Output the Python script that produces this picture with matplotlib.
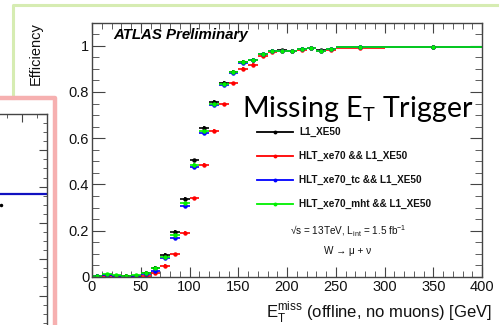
import matplotlib
matplotlib.use("Agg")
import matplotlib.pyplot as plt
from matplotlib.lines import Line2D
from matplotlib.ticker import MultipleLocator, FixedLocator, FuncFormatter
import numpy as np

# ---------------- data ----------------
bin_edges = [0, 10, 20, 30, 40, 50, 60, 70, 80, 90, 100, 110, 120, 130, 140, 150,
             160, 170, 180, 190, 200, 210, 220, 230, 240, 250, 300, 400]
eff_l1 = [0.004, 0.010, 0.006, 0.003, 0.006, 0.016, 0.040, 0.095, 0.196, 0.338,
          0.505, 0.645, 0.757, 0.839, 0.887, 0.930, 0.940, 0.963, 0.978, 0.980,
          0.978, 0.985, 0.990, 0.980, 0.985, 0.993, 0.996]
eff_xe70 = [0.002, 0.004, 0.003, 0.001, 0.003, 0.006, 0.019, 0.048, 0.098, 0.191,
            0.340, 0.484, 0.632, 0.746, 0.837, 0.901, 0.917, 0.955, 0.973, 0.977,
            0.976, 0.983, 0.988, 0.976, 0.982, 0.990, 0.995]
eff_tc = [0.003, 0.008, 0.005, 0.002, 0.005, 0.012, 0.028, 0.081, 0.170, 0.307,
          0.476, 0.621, 0.743, 0.829, 0.883, 0.927, 0.938, 0.962, 0.977, 0.978,
          0.977, 0.985, 0.989, 0.977, 0.984, 0.993, 0.996]
eff_mht = [0.005, 0.012, 0.008, 0.004, 0.008, 0.019, 0.037, 0.085, 0.180, 0.318,
           0.486, 0.632, 0.750, 0.836, 0.887, 0.930, 0.940, 0.963, 0.978, 0.979,
           0.978, 0.986, 0.990, 0.977, 0.985, 0.993, 0.996]
eff_err = 0.007
series_labels = ["L1_XE50", "HLT_xe70 && L1_XE50", "HLT_xe70_tc && L1_XE50",
                 "HLT_xe70_mht && L1_XE50"]
series_colors = ["black", "#ff0000", "#0000ff", "#00f000"]
x_ticks = [0, 50, 100, 150, 200, 250, 300, 350, 400]
y_ticks = [0, 0.2, 0.4, 0.6, 0.8, 1.0]

# neighbouring (cut-off) panel on the left
side_line_y = [0.78, 0.78]
side_line_x = [-53, 47]
side_point = ([1], [0.749])

# ---------------- figure ----------------
W, H = 500, 325
fig = plt.figure(figsize=(W / 100, H / 100), dpi=100)
fig.patch.set_facecolor("white")

def fx(px):
    return px / W

def fy(py):
    return 1 - py / H

FONT = ["Liberation Sans", "DejaVu Sans"]
plt.rcParams["font.family"] = FONT

# slide decorations: green and pink frames
fig.add_artist(Line2D([fx(13), fx(13), fx(497)], [fy(98), fy(5), fy(5)],
                      color="#d6ecb2", lw=2.2, solid_joinstyle="round"))
fig.add_artist(Line2D([fx(-5), fx(55), fx(55)], [fy(98), fy(98), fy(330)],
                      color="#f6b0b0", lw=3.2, solid_joinstyle="round"))

# left partial panel
ax2 = fig.add_axes([fx(-53), 0, fx(100), fy(114)])
ax2.set_xlim(-53, 47)
ax2.set_ylim(1.0 - 211 / 363, 1.0)
for s in ["left", "bottom"]:
    ax2.spines[s].set_visible(False)
for s in ["top", "right"]:
    ax2.spines[s].set_color("#444444")
    ax2.spines[s].set_linewidth(1.0)
ax2.xaxis.tick_top()
ax2.yaxis.tick_right()
ax2.set_xticks([22])
ax2.set_xticks([7, 37], minor=True)
ax2.yaxis.set_major_locator(MultipleLocator(0.1))
ax2.yaxis.set_minor_locator(MultipleLocator(0.025))
ax2.tick_params(which="both", direction="in", labeltop=False, labelright=False,
                labelbottom=False, labelleft=False, color="#444444")
ax2.tick_params(which="major", length=6)
ax2.tick_params(which="minor", length=3)
ax2.plot(side_line_x, side_line_y, color="#1010c0", lw=1.6)
ax2.plot(side_point[0], side_point[1], "o", color="black", ms=1.5)
ax2.patch.set_alpha(0)

# main axes
ax = fig.add_axes([fx(92), fy(277), fx(390), 254 / H])
edges = np.array(bin_edges, dtype=float)
centers = 0.5 * (edges[1:] + edges[:-1])
halfw = 0.5 * (edges[1:] - edges[:-1])

all_series = [eff_l1, eff_xe70, eff_tc, eff_mht]
for vals, col in zip(all_series, series_colors):
    ax.errorbar(centers, vals, xerr=halfw, yerr=eff_err, fmt="o", ms=3.2,
                color=col, ecolor=col, elinewidth=1.2, capsize=0, mew=0)

ax.set_xlim(0, 400)
ax.set_ylim(0, 254 / 231.3)
ax.xaxis.set_major_locator(FixedLocator(x_ticks))
ax.xaxis.set_minor_locator(MultipleLocator(10))
ax.yaxis.set_major_locator(FixedLocator(y_ticks))
ax.yaxis.set_minor_locator(MultipleLocator(0.05))
ax.yaxis.set_major_formatter(FuncFormatter(lambda v, p: "%g" % round(v, 2)))
ax.tick_params(which="both", direction="in", top=True, right=True,
               color="#444444", labelsize=10.5, labelcolor="#111111")
ax.tick_params(axis="x", which="major", length=7.5, pad=2)
ax.tick_params(axis="x", which="minor", length=4)
ax.tick_params(axis="y", which="major", length=9, pad=2)
ax.tick_params(axis="y", which="minor", length=5)
for s in ax.spines.values():
    s.set_color("#444444")
    s.set_linewidth(1.0)

# axis titles
fig.text(fx(36), fy(22), "Efficiency", rotation=90, ha="center", va="top",
         fontsize=10.5, color="#111111")
fig.text(fx(492), fy(317), r"E$_\mathregular{T}^\mathregular{miss}$ (offline, no muons) [GeV]",
         ha="right", va="baseline", fontsize=12, color="#111111")

# ATLAS label
fig.text(fx(113), fy(39), "ATLAS Preliminary", ha="left", va="baseline",
         fontsize=10.8, fontweight="bold", fontstyle="italic", color="black")

# slide title
fig.text(fx(242), fy(117), r"Missing E$_\mathregular{T}$ Trigger", ha="left",
         va="baseline", fontsize=20.6, family=["Lato", "DejaVu Sans"], color="black")

# legend
leg_y = [131.7, 155.5, 179.5, 203.5]
for lab, col, yy in zip(series_labels, series_colors, leg_y):
    fig.add_artist(Line2D([fx(257), fx(293)], [fy(yy), fy(yy)], color=col, lw=1.3))
    fig.add_artist(Line2D([fx(275)], [fy(yy)], color=col, marker="o", ms=2.8, mew=0))
    fig.text(fx(299), fy(yy), lab, ha="left", va="center", fontsize=7.2,
             fontweight="bold", color="#111111")

fig.text(fx(348), fy(231), "\u221As = 13TeV, L$_\\mathregular{int}$ = 1.5 fb$^\\mathregular{-1}$",
         ha="center", va="center", fontsize=7.2, color="#111111")
fig.text(fx(348), fy(251), "W \u2192 \u03bc + \u03bd", ha="center", va="center",
         fontsize=7.2, color="#111111")

fig.savefig("out.png", dpi=100, facecolor="white")
